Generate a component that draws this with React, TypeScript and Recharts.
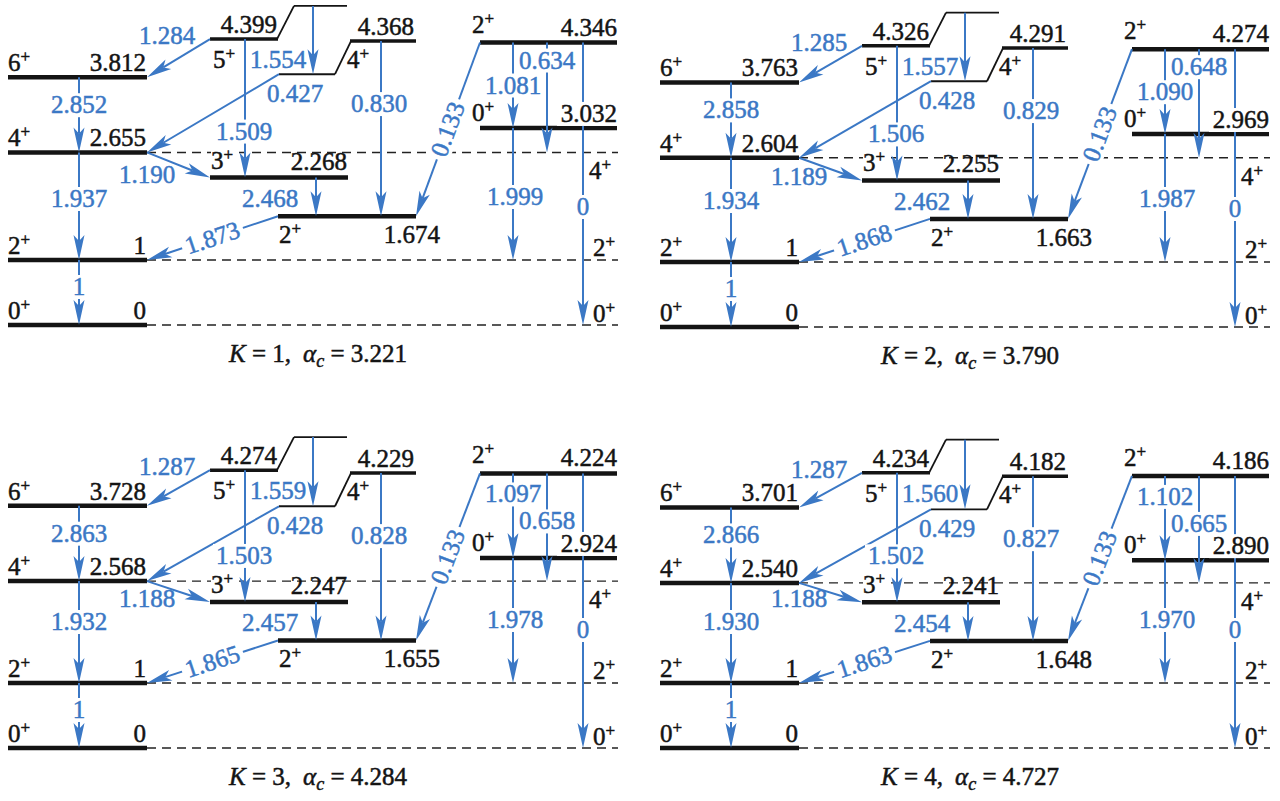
import React from 'react'
import { ComposedChart, XAxis, YAxis, ReferenceLine, ReferenceDot } from 'recharts'

// panel captions
const kValues = ['1', '2', '3', '4']
const alphaC = ['3.221', '3.790', '4.284', '4.727']

// level energies per panel
const e0g = [0, 0, 0, 0]
const e2g = [1, 1, 1, 1]
const e4 = [2.655, 2.604, 2.568, 2.54]
const e6 = [3.812, 3.763, 3.728, 3.701]
const e5 = [4.399, 4.326, 4.274, 4.234]
const e4b = [4.368, 4.291, 4.229, 4.182]
const e3 = [2.268, 2.255, 2.247, 2.241]
const e2b = [1.674, 1.663, 1.655, 1.648]
const e2c = [4.346, 4.274, 4.224, 4.186]
const e0b = [3.032, 2.969, 2.924, 2.89]

// transition strengths (arrow labels)
const t64 = ['2.852', '2.858', '2.863', '2.866']
const t42 = ['1.937', '1.934', '1.932', '1.930']
const t20 = ['1', '1', '1', '1']
const t56 = ['1.284', '1.285', '1.287', '1.287']
const t54b = ['1.554', '1.557', '1.559', '1.560']
const t4b4 = ['0.427', '0.428', '0.428', '0.429']
const t53 = ['1.509', '1.506', '1.503', '1.502']
const t43 = ['1.190', '1.189', '1.188', '1.188']
const t32b = ['2.468', '2.462', '2.457', '2.454']
const t4b2b = ['0.830', '0.829', '0.828', '0.827']
const t2c2b = ['0.133', '0.133', '0.133', '0.133']
const t2b2 = ['1.873', '1.868', '1.865', '1.863']
const t2c0b = ['1.081', '1.090', '1.097', '1.102']
const t2c4 = ['0.634', '0.648', '0.658', '0.665']
const t0b2 = ['1.999', '1.987', '1.978', '1.970']
const t2c0 = ['0', '0', '0', '0']

const panelLeft = [0, 652, 0, 652]
const panelTop = [0, 2, 423, 423]

const PX = 65 // pixels per energy unit
const CH_W = 640
const CH_H = 400
const Y_MAX = 5
const Y_MIN = Y_MAX - CH_H / PX
const BEND = 0.51
const BLUE = '#3b78c5'
const INK = '#141414'
const FONT = "'Liberation Serif', 'DejaVu Serif', 'Noto Serif', serif"

// pixel offset -> energy units (positive = upward)
const up = (px: number) => px / PX
const fmt = (v: number) => (Number.isInteger(v) ? String(v) : v.toFixed(3))

function ArrowShape(p: any) {
  const { x1, y1, x2, y2 } = p
  const dx = x2 - x1
  const dy = y2 - y1
  const len = Math.hypot(dx, dy) || 1
  const ux = dx / len
  const uy = dy / len
  const L = 25, W = 5.5, N = 6
  const bx = x2 - ux * L
  const by = y2 - uy * L
  const nx = x2 - ux * (L - N)
  const ny = y2 - uy * (L - N)
  const pts = [
    [x2, y2],
    [bx - uy * W, by + ux * W],
    [nx, ny],
    [bx + uy * W, by - ux * W],
  ].map((q) => q.join(',')).join(' ')
  return (
    <g>
      <line x1={x1} y1={y1} x2={nx} y2={ny} stroke={BLUE} strokeWidth={2} />
      <polygon points={pts} fill={BLUE} />
    </g>
  )
}

interface TextOpts {
  anchor?: 'start' | 'middle' | 'end'
  color?: string
  rot?: number
  dy?: number
  size?: number
  bg?: number // width of a white box behind the text, hiding the lines it sits on
}

const txt = (key: string, x: number, e: number, content: React.ReactNode, o: TextOpts = {}) => (
  <ReferenceDot
    key={key}
    x={x}
    y={e}
    r={0}
    ifOverflow="visible"
    fill="none"
    stroke="none"
    shape={(p: any) => {
      const anchor = o.anchor || 'start'
      const by = p.cy + (o.dy || 0)
      const w = o.bg || 0
      const bx = anchor === 'middle' ? p.cx - w / 2 : anchor === 'end' ? p.cx - w : p.cx
      const color = o.color || INK
      return (
        <g transform={o.rot ? `rotate(${o.rot} ${p.cx} ${p.cy})` : undefined}>
          {w ? <rect x={bx} y={by - 20} width={w} height={24} fill="#fff" /> : null}
          <text
            x={p.cx}
            y={by}
            textAnchor={anchor}
            fontSize={o.size || 25}
            fill={color}
            stroke={color}
            strokeWidth={0.5}
            style={{ fontFamily: FONT }}
          >
            {content}
          </text>
        </g>
      )
    }}
  />
)

const spin = (n: string) => [
  n,
  <tspan key="s" dy={-9} fontSize={17}>+</tspan>,
]

function Panel({ i }: { i: number }) {
  const E0 = e0g[i], E2 = e2g[i], E4 = e4[i], E6 = e6[i]
  const E5 = e5[i], E4b = e4b[i], E3 = e3[i], E2b = e2b[i]
  const E2c = e2c[i], E0b = e0b[i]
  const E5top = E5 + BEND
  const E4low = E4b - BEND
  const lower = i >= 2

  const seg = (key: string, x1: number, y1: number, x2: number, y2: number, w: number, dash?: string, color = INK) => (
    <ReferenceLine
      key={key}
      segment={[{ x: x1, y: y1 }, { x: x2, y: y2 }]}
      stroke={color}
      strokeWidth={w}
      strokeDasharray={dash}
      ifOverflow="visible"
    />
  )

  const arrows: [number, number, number, number][] = [
    [79, E6, 79, E4],
    [79, E4, 79, E2],
    [79, E2, 79, E0],
    [210, E5, 147, E6],
    [313, E5top, 313, E4low],
    [279, E4low, 147, E4],
    [245, E5, 245, E3],
    [147, E4, 210, E3],
    [316, E3, 316, E2b],
    [381, E4b, 381, E2b],
    [480, E2c, 416, E2b],
    [278, E2b, 147, E2],
    [513, E2c, 513, E0b],
    [547, E2c, 547, E4],
    [513, E0b, 513, E2],
    [583, E2c, 583, E0],
  ]

  // blue label centred c px below level e
  const blue = (key: string, x: number, e: number, s: string, c: number, bg?: number) =>
    txt(key, x, e - up(c), s, { anchor: 'middle', color: BLUE, dy: 8, bg })

  const along = (key: string, a: [number, number, number, number], s: string) => {
    const [x1, y1, x2, y2] = a
    const dxp = x2 - x1
    const dyp = -(y2 - y1) * PX
    const ang = (Math.atan2(-dyp, -dxp) * 180) / Math.PI
    return txt(key, (x1 + x2) / 2, (y1 + y2) / 2, s, { anchor: 'middle', color: BLUE, dy: 8, rot: ang, bg: 64 })
  }

  return (
    <ComposedChart width={CH_W} height={CH_H} margin={{ top: 0, right: 0, bottom: 0, left: 0 }}>
      <XAxis type="number" dataKey="x" domain={[0, CH_W]} hide allowDataOverflow />
      <YAxis type="number" domain={[Y_MIN, Y_MAX]} hide allowDataOverflow />

      {seg('d4', 147, E4, 618, E4, 1.4, '9 6', '#222')}
      {seg('d2', 147, E2, 618, E2, 1.4, '9 6', '#222')}
      {seg('d0', 147, E0, 618, E0, 1.4, '9 6', '#222')}

      {seg('l0', 8, E0, 147, E0, 4.5)}
      {seg('l2', 8, E2, 147, E2, 4.5)}
      {seg('l4', 8, E4, 147, E4, 4.5)}
      {seg('l6', 8, E6, 147, E6, 4.5)}
      {seg('l3', 210, E3, 348, E3, 4.5)}
      {seg('l2b', 278, E2b, 416, E2b, 4.5)}
      {seg('l2c', 480, E2c, 617, E2c, 4.5)}
      {seg('l0b', 480, E0b, 617, E0b, 4.5)}
      {seg('l5', 210, E5, 278, E5, 3.5)}
      {seg('l5a', 277, E5, 294, E5top, 1.8)}
      {seg('l5b', 294, E5top, 347, E5top, 1.8)}
      {seg('l4b', 350, E4b, 416, E4b, 3.5)}
      {seg('l4ba', 351, E4b, 335, E4low, 1.8)}
      {seg('l4bb', 335, E4low, 279, E4low, 1.8)}

      {arrows.map(([x1, y1, x2, y2], j) => (
        <ReferenceLine
          key={`a${j}`}
          segment={[{ x: x1, y: y1 }, { x: x2, y: y2 }]}
          stroke={BLUE}
          strokeWidth={2}
          ifOverflow="visible"
          shape={ArrowShape}
        />
      ))}

      {txt('n6', 8, E6 + up(6), spin('6'))}
      {txt('v6', 146, E6 + up(6), fmt(E6), { anchor: 'end' })}
      {txt('n4', 8, E4 + up(6), spin('4'))}
      {txt('v4', 146, E4 + up(6), fmt(E4), { anchor: 'end' })}
      {txt('n2', 8, E2 + up(6), spin('2'))}
      {txt('v2', 146, E2 + up(6), fmt(E2), { anchor: 'end' })}
      {txt('n0', 8, E0 + up(6), spin('0'))}
      {txt('v0', 146, E0 + up(6), fmt(E0), { anchor: 'end' })}
      {txt('v5', 277, E5 + up(6), fmt(E5), { anchor: 'end' })}
      {txt('n5', 213, E5 - up(29), spin('5'))}
      {txt('v4b', 414, E4b + up(6), fmt(E4b), { anchor: 'end' })}
      {txt('n4b', 347, E4b - up(27), spin('4'))}
      {txt('n2c', 472, E2c + up(10), spin('2'))}
      {txt('v2c', 617, E2c + up(7), fmt(E2c), { anchor: 'end' })}
      {txt('n0b', 472, E0b + up(7), spin('0'))}
      {txt('v0b', 617, E0b + up(6), fmt(E0b), { anchor: 'end', bg: 60 })}
      {txt('n3', 211, E3 + up(9), spin('3'), { bg: 28 })}
      {txt('v3', 347, E3 + up(8), fmt(E3), { anchor: 'end' })}
      {txt('n2b', 279, E2b - up(27), spin('2'))}
      {txt('v2b', 440, E2b - up(27), fmt(E2b), { anchor: 'end' })}
      {txt('r4', 589, E4 - up(27), spin('4'))}
      {txt('r2', 593, E2 + up(4), spin('2'))}
      {txt('r0', 593, E0 + up(3), spin('0'))}

      {blue('b64', 79, E6, t64[i], 28, 62)}
      {blue('b42', 79, E2, t42[i], -61, 62)}
      {blue('b20', 79, E2, t20[i], 27, 16)}
      {blue('b56', 167, E5, t56[i], -3)}
      {blue('b54b', 278, E5, t54b[i], 21)}
      {blue('b4b4', 295, E4low, t4b4[i], 20)}
      {blue('b53', 244, E3, t53[i], -46, 62)}
      {blue('b43', 147, E3, t43[i], -3)}
      {blue('b32b', 270, E2b, t32b[i], -17)}
      {blue('b4b2b', 379, E4b, t4b2b[i], 63, 62)}
      {along('b2c2b', arrows[10], t2c2b[i])}
      {along('b2b2', arrows[11], t2b2[i])}
      {blue('b2c0b', 513, E2c, t2c0b[i], lower ? 21 : 43, 58)}
      {blue('b2c4', 547, E2c, t2c4[i], lower ? 48 : 18, 58)}
      {blue('b0b2', 515, E2, t0b2[i], -63, 62)}
      {blue('b2c0', 583, E2, t2c0[i], -53, 16)}

      {txt('cap', 318, E0 - up(37), [
        <tspan key="a" fontStyle="italic">K</tspan>,
        <tspan key="b"> = {kValues[i]},</tspan>,
        <tspan key="c" dx={12} fontStyle="italic">α</tspan>,
        <tspan key="d" fontStyle="italic" fontSize={18} dy={5}>c</tspan>,
        <tspan key="e" dy={-5}> = {alphaC[i]}</tspan>,
      ], { anchor: 'middle' })}
    </ComposedChart>
  )
}

export default function App() {
  return (
    <div style={{ position: 'absolute', left: 0, top: 0, width: 1280, height: 801, overflow: 'hidden', background: '#fff' }}>
      {kValues.map((k, i) => (
        <div key={k} style={{ position: 'absolute', left: panelLeft[i], top: panelTop[i] }}>
          <Panel i={i} />
        </div>
      ))}
    </div>
  )
}
